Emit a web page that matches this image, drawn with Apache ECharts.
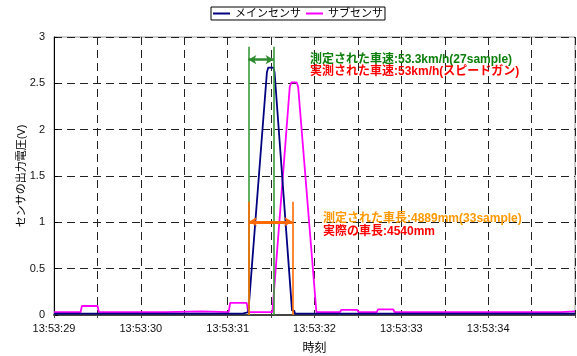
<!DOCTYPE html>
<html>
<head>
<meta charset="utf-8">
<script src="https://cdn.jsdelivr.net/npm/echarts@6/dist/echarts.min.js"></script>
<style>
html,body{margin:0;padding:0;background:#fff;}
#c{width:577px;height:356px;}
</style>
</head>
<body>
<div id="c"></div>
<script>
// ---- data (time in seconds after 13:53:29) ----
const xTickLabels = ['13:53:29','13:53:30','13:53:31','13:53:32','13:53:33','13:53:34'];
const seriesNames = ['メインセンサ','サブセンサ'];

const mainT = [0, 2.173, 2.175, 2.238, 2.452, 2.468, 2.526, 2.540, 2.741, 2.766, 2.775, 6.0];
const mainV = [0.015, 0.015, 0.03, 0.03, 2.62, 2.67, 2.67, 2.62, 0.05, 0.045, 0.015, 0.015];

const subT = [0, 0.306, 0.321, 0.502, 0.517, 1.28, 1.30, 1.70, 1.72, 2.011, 2.029, 2.219, 2.236, 2.515, 2.715, 2.732, 2.795, 2.812, 3.022, 3.290, 3.310, 3.492, 3.509, 3.717, 3.732, 3.907, 3.924, 5.837, 5.856, 6.0];
const subV = [0.03, 0.03, 0.097, 0.097, 0.03, 0.03, 0.04, 0.04, 0.03, 0.03, 0.13, 0.13, 0.03, 0.03, 2.46, 2.51, 2.51, 2.46, 0.03, 0.03, 0.055, 0.055, 0.03, 0.03, 0.06, 0.06, 0.03, 0.03, 0.04, 0.04];

// annotation markers (data coordinates)
const speedMarkers = [2.238, 2.530];
const speedMarkerTop = 2.894;
const speedArrowY = 2.755;
const lengthMarkers = [2.245, 2.745];
const lengthMarkerTop = 1.222;
const lengthArrowY = 1.006;

const speedTexts = ['測定された車速:53.3km/h(27sample)', '実測された車速:53km/h(スピードガン)'];
const lengthTexts = ['測定された車長:4889mm(33sample)', '実際の車長:4540mm'];

// ---- build ----
const FONT = '"Liberation Sans", Arial, "Noto Sans CJK JP", sans-serif';
const zip = (t, v) => t.map((x, i) => [x, v[i]]);

const green = '#3a9a3a', orange = '#ff6a00';
const vline = (x, top, color) => [
  {coord: [x, top], symbol: 'none', lineStyle: {color: color, width: 1.6, type: 'solid'}},
  {coord: [x, 0], symbol: 'none'}
];
const arrow = (x1, x2, y, color, w) => [
  {coord: [x1, y], symbol: 'arrow', symbolSize: [7, 8], lineStyle: {color: color, width: w, type: 'solid'}, itemStyle: {color: color}},
  {coord: [x2, y], symbol: 'arrow', symbolSize: [7, 8], itemStyle: {color: color}}
];

const chart = echarts.init(document.getElementById('c'), null, {renderer: 'canvas'});
chart.setOption({
  animation: false,
  backgroundColor: '#fff',
  textStyle: {fontFamily: FONT},
  legend: {
    left: 211, top: 7,
    padding: [1, 2],
    itemGap: 5,
    itemWidth: 17, itemHeight: 2,
    borderColor: '#000', borderWidth: 1,
    icon: 'rect',
    textStyle: {fontSize: 11, color: '#000', fontFamily: FONT},
    data: seriesNames
  },
  grid: {left: 54, right: 2, top: 37, bottom: 41, show: true, borderColor: '#999', borderWidth: 1,
         containLabel: false, outerBoundsMode: 'none'},
  xAxis: {
    type: 'value', min: 0, max: 6, interval: 0.5,
    name: '時刻', nameLocation: 'middle', nameGap: 28, nameMoveOverlap: false,
    nameTextStyle: {fontSize: 12, color: '#000'},
    axisLine: {lineStyle: {color: '#444', width: 2}},
    axisTick: {show: true, length: 3, lineStyle: {color: '#444'}},
    axisLabel: {
      fontSize: 11, color: '#111', margin: 8,
      formatter: v => (Math.abs(v - Math.round(v)) < 1e-6 && xTickLabels[Math.round(v)]) ? xTickLabels[Math.round(v)] : ''
    },
    splitLine: {show: true, lineStyle: {color: '#222', width: 1, type: [8, 5]}}
  },
  yAxis: {
    type: 'value', min: 0, max: 3, interval: 0.5,
    name: 'センサの出力電圧(V)', nameLocation: 'middle', nameGap: 27, nameMoveOverlap: false,
    nameTextStyle: {fontSize: 11, color: '#000'},
    axisLine: {show: true, lineStyle: {color: '#000', width: 1}},
    axisTick: {show: true, inside: true, length: 4, lineStyle: {color: '#000'}},
    axisLabel: {fontSize: 11, color: '#111', margin: 9},
    splitLine: {show: true, lineStyle: {color: '#222', width: 1, type: [8, 5]}}
  },
  series: [
    {
      name: seriesNames[0], type: 'line', data: zip(mainT, mainV),
      showSymbol: false, symbol: 'none',
      lineStyle: {color: '#000080', width: 1.8}, itemStyle: {color: '#000080'},
      z: 3
    },
    {
      name: seriesNames[1], type: 'line', data: zip(subT, subV),
      showSymbol: false, symbol: 'none',
      lineStyle: {color: '#ff00ff', width: 1.8}, itemStyle: {color: '#ff00ff'},
      z: 2,
      markLine: {
        silent: true, animation: false,
        symbol: ['none', 'none'],
        label: {show: false},
        emphasis: {disabled: true},
        data: [
          vline(speedMarkers[0], speedMarkerTop, green),
          vline(speedMarkers[1], speedMarkerTop, green),
          vline(lengthMarkers[0], lengthMarkerTop, orange),
          vline(lengthMarkers[1], lengthMarkerTop, orange),
          arrow(speedMarkers[0], speedMarkers[1], speedArrowY, '#2e8b2e', 2.5),
          arrow(lengthMarkers[0], lengthMarkers[1], lengthArrowY, orange, 3)
        ]
      }
    }
  ],
  graphic: [
    {type: 'text', left: 310, top: 54, z: 100, style: {text: speedTexts[0], fill: '#0a7f0a', font: 'bold 12px ' + FONT}},
    {type: 'text', left: 310, top: 66, z: 100, style: {text: speedTexts[1], fill: '#ff0000', font: 'bold 12px ' + FONT}},
    {type: 'text', left: 323, top: 213, z: 100, style: {text: lengthTexts[0], fill: '#ff9900', font: 'bold 12px ' + FONT}},
    {type: 'text', left: 323, top: 226, z: 100, style: {text: lengthTexts[1], fill: '#ff0000', font: 'bold 12px ' + FONT}}
  ]
});
</script>
</body>
</html>
